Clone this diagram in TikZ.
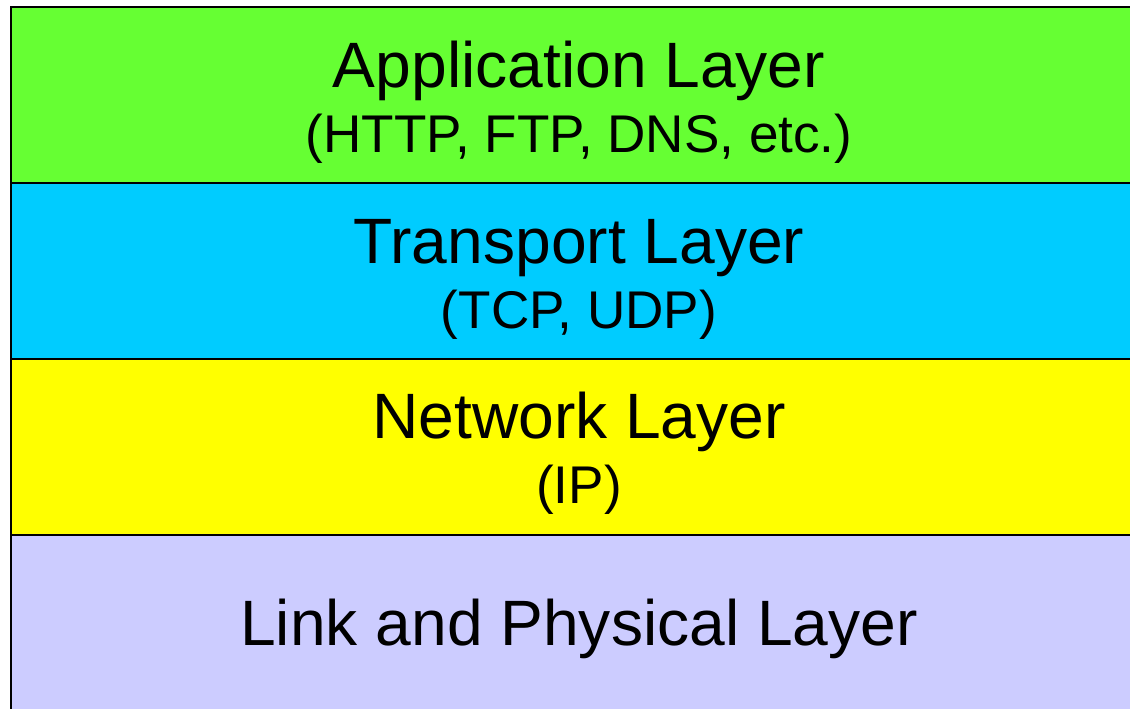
\documentclass[tikz,border=0pt]{standalone}
\usepackage{fontspec}
\setmainfont{Liberation Sans}
\definecolor{appgreen}{HTML}{66FF33}
\definecolor{transcyan}{HTML}{00CCFF}
\definecolor{netyellow}{HTML}{FFFF00}
\definecolor{linklavender}{HTML}{CCCCFF}
\begin{document}
\begin{tikzpicture}[
    layer/.style={draw=black, line width=1.1pt, minimum width=22.72cm, minimum height=3.52cm, anchor=north west, inner sep=0pt, outer sep=0pt},
    title/.style={font=\fontsize{36.5}{40}\selectfont, anchor=base},
    proto/.style={font=\fontsize{30.2}{34}\selectfont, anchor=base}
]
    \useasboundingbox (0,0) rectangle (22.6,14.16);
    \clip (0,0) rectangle (22.6,14.16);
    \node[layer, fill=appgreen] (app) at (0.22,14.02) {};
    \node[layer, fill=transcyan] (trans) at (app.south west) {};
    \node[layer, fill=netyellow] (net) at (trans.south west) {};
    \node[layer, fill=linklavender, minimum height=3.8cm] (link) at (net.south west) {};
    \node[title] (apptitle) at (11.58,12.42) {Application Layer};
    \node[proto] (appproto) at (11.58,11.12) {(HTTP, FTP, DNS, etc.)};
    \node[title] (transtitle) at (11.58,8.90) {Transport Layer};
    \node[proto] (transproto) at (11.58,7.60) {(TCP, UDP)};
    \node[title] (nettitle) at (11.58,5.39) {Network Layer};
    \node[proto] (netproto) at (11.58,4.09) {(IP)};
    \node[title] (linktitle) at (11.58,1.26) {Link and Physical Layer};
\end{tikzpicture}
\end{document}
